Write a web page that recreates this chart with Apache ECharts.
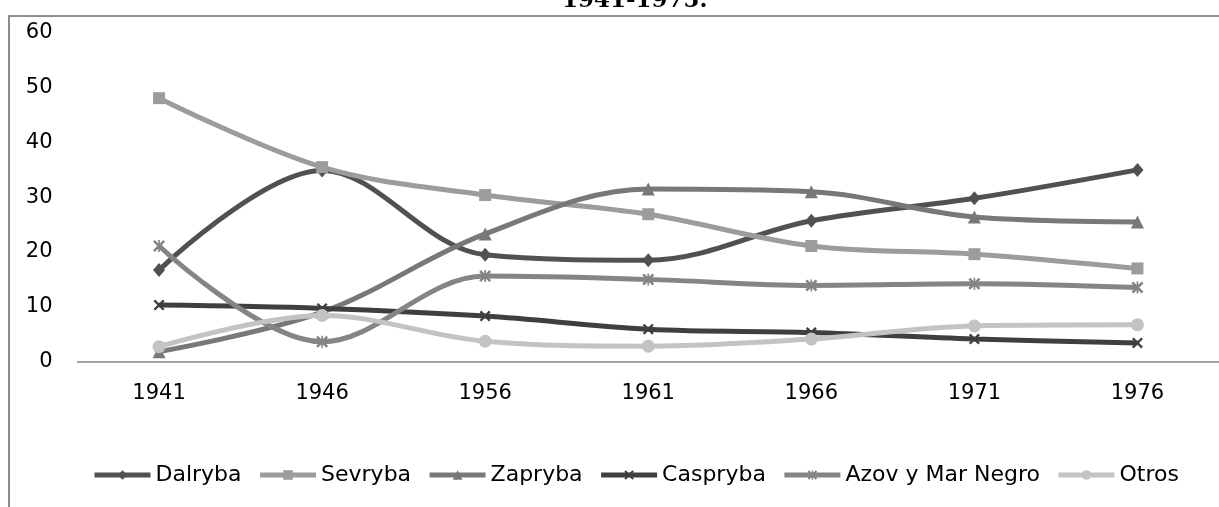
<!DOCTYPE html>
<html>
<head>
<meta charset="utf-8">
<script src="https://cdn.jsdelivr.net/npm/echarts/dist/echarts.min.js"></script>
<style>
  html, body { margin: 0; padding: 0; background: #fff; }
  #chart { width: 1219px; height: 507px; }
</style>
</head>
<body>
<div id="chart"></div>
<script>
// categories (years)
const years = ['1941', '1946', '1956', '1961', '1966', '1971', '1976']

// series values
const dalryba = [16.7, 34.9, 19.5, 18.5, 25.7, 29.8, 35.0]
const sevryba = [48.1, 35.5, 30.4, 26.9, 21.1, 19.6, 17.0]
const zapryba = [1.8, 9.0, 23.3, 31.5, 31.0, 26.4, 25.5]
const caspryba = [10.3, 9.7, 8.3, 5.9, 5.3, 4.1, 3.4]
const azov = [21.1, 3.6, 15.6, 15.0, 13.9, 14.2, 13.5]
const otros = [2.7, 8.4, 3.7, 2.8, 4.1, 6.5, 6.7]

const seriesNames = ['Dalryba', 'Sevryba', 'Zapryba', 'Caspryba', 'Azov y Mar Negro', 'Otros']
const seriesData = [dalryba, sevryba, zapryba, caspryba, azov, otros]
const colors = ['#515151', '#9c9c9c', '#787878', '#3f3f3f', '#858585', '#c3c3c3']

// marker shapes
const crossPath = 'path://M0,1.5L1.5,0L5,3.5L8.5,0L10,1.5L6.5,5L10,8.5L8.5,10L5,6.5L1.5,10L0,8.5L3.5,5Z'
const starPath = crossPath + 'M4.3,0L5.7,0L5.7,10L4.3,10Z'
const symbols = ['diamond', 'rect', 'triangle', crossPath, starPath, 'circle']
const symbolSizes = [[12, 14], 12, 13, 11, 12, 13]

const font = 'DejaVu Sans'

const myChart = echarts.init(document.getElementById('chart'))
myChart.setOption({
  animation: false,
  color: colors,
  title: {
    text: '1941-1975.',
    left: 557,
    top: -15,
    textStyle: {
      fontFamily: 'DejaVu Serif',
      fontWeight: 'bold',
      fontSize: 23,
      color: '#000'
    }
  },
  graphic: [
    {
      type: 'rect',
      shape: { x: 9, y: 16, width: 1300, height: 600 },
      style: { fill: 'none', stroke: '#8c8c8c', lineWidth: 2 },
      silent: true
    }
  ],
  legend: {
    left: 87,
    top: 459,
    itemWidth: 56,
    itemHeight: 12,
    itemGap: 16,
    selectedMode: false,
    lineStyle: { width: 5 },
    textStyle: {
      fontFamily: font,
      fontSize: 22,
      color: '#000'
    }
  },
  grid: {
    left: 77.5,
    right: -14.5,
    top: 33,
    bottom: 145.5,
    containLabel: false
  },
  xAxis: {
    type: 'category',
    data: years,
    boundaryGap: true,
    axisLine: { lineStyle: { color: '#888', width: 1.5 } },
    axisTick: { show: false },
    axisLabel: {
      margin: 22,
      fontFamily: font,
      fontSize: 21,
      color: '#000'
    },
    splitLine: { show: false }
  },
  yAxis: {
    type: 'value',
    min: 0,
    max: 60,
    interval: 10,
    axisLine: { show: false },
    axisTick: { show: false },
    splitLine: { show: false },
    axisLabel: {
      margin: 25,
      fontFamily: font,
      fontSize: 21,
      color: '#000'
    }
  },
  series: seriesNames.map(function (name, i) {
    return {
      name: name,
      type: 'line',
      data: seriesData[i],
      smooth: 0.35,
      symbol: symbols[i],
      symbolSize: symbolSizes[i],
      showAllSymbol: true,
      lineStyle: { width: 5, color: colors[i] },
      itemStyle: { color: colors[i] }
    }
  })
})
</script>
</body>
</html>
